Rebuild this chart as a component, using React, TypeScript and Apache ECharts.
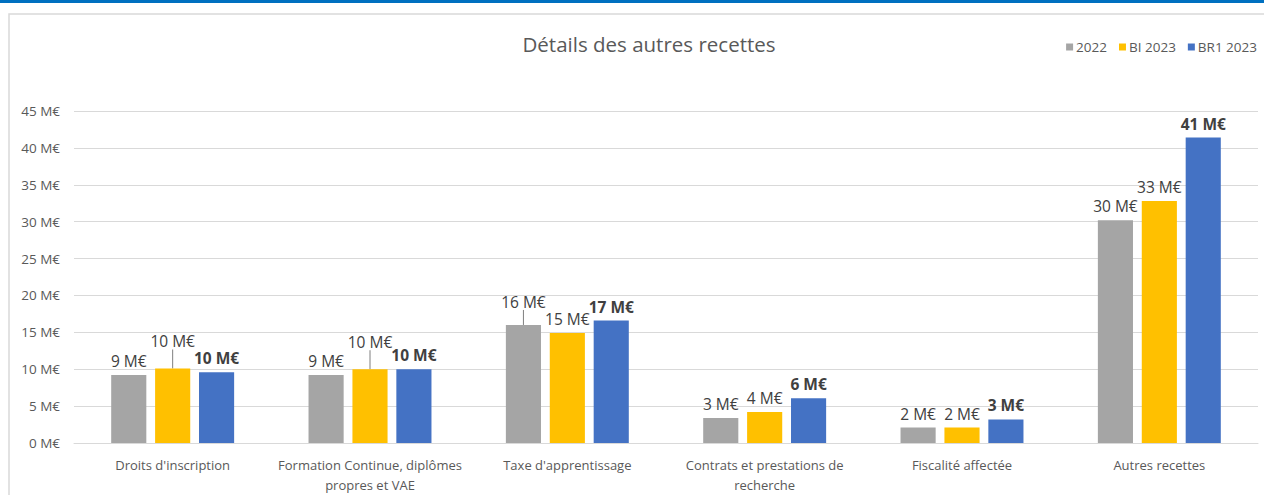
import React, { useEffect, useRef } from "react";
import * as echarts from "echarts";

const categories = [
  "Droits d'inscription",
  "Formation Continue, diplômes\npropres et VAE",
  "Taxe d'apprentissage",
  "Contrats et prestations de\nrecherche",
  "Fiscalité affectée",
  "Autres recettes",
];
const seriesNames = ["2022", "BI 2023", "BR1 2023"];
const values2022 = [9.2, 9.2, 16.0, 3.4, 2.1, 30.2];
const valuesBI2023 = [10.1, 10.0, 14.9, 4.2, 2.1, 32.8];
const valuesBR12023 = [9.6, 10.0, 16.6, 6.05, 3.2, 41.4];
const yTicks = [0, 5, 10, 15, 20, 25, 30, 35, 40, 45];

// labels lifted with a leader line: [seriesIndex, dataIndex, dy]
const liftedLabels: [number, number, number][] = [
  [1, 0, -13],
  [1, 1, -13],
  [0, 2, -9],
];

const colors = ["#A5A5A5", "#FFC000", "#4472C4"];
const FONT = "Open Sans";

export default function App() {
  const ref = useRef<HTMLDivElement>(null);
  useEffect(() => {
    if (!ref.current) return;
    const chart = echarts.init(ref.current, undefined, { renderer: "svg" });
    const data = [values2022, valuesBI2023, valuesBR12023];
    const series = data.map((vals, si) => ({
      name: seriesNames[si],
      type: "bar" as const,
      data: vals.map((v, di) => {
        const lifted = liftedLabels.some((l) => l[0] === si && l[1] === di);
        return { value: v, labelLine: { show: lifted } };
      }),
      barWidth: "17.8%",
      barGap: "25%",
      itemStyle: { color: colors[si] },
      label: {
        show: true,
        position: "top" as const,
        distance: 6,
        fontFamily: FONT,
        fontSize: 15.5,
        fontWeight: si === 2 ? ("bold" as const) : ("normal" as const),
        color: "#404040",
        formatter: (p: any) => Math.round(p.value) + " M€",
      },
      labelLine: { show: false, lineStyle: { color: "#7F7F7F", width: 1 } },
      labelLayout: (p: any) => {
        const f = liftedLabels.find((l) => l[0] === si && l[1] === p.dataIndex);
        return f ? { dy: f[2] } : {};
      },
    }));
    chart.setOption({
      animation: false,
      title: {
        text: "Détails des autres recettes",
        left: 644,
        textAlign: "center",
        top: 28,
        textStyle: { fontFamily: FONT, fontSize: 20.5, fontWeight: "normal", color: "#595959" },
      },
      legend: {
        data: seriesNames,
        right: 2,
        top: 35,
        icon: "rect",
        itemWidth: 7,
        itemHeight: 7,
        itemGap: 12,
        textStyle: { fontFamily: FONT, fontSize: 13.5, color: "#595959", padding: [0, 0, 0, -2] },
      },
      grid: { left: 74, right: 6, top: 111, bottom: 48 },
      xAxis: {
        type: "category",
        data: categories,
        axisTick: { show: false },
        axisLine: { lineStyle: { color: "#D9D9D9" } },
        axisLabel: {
          fontFamily: FONT,
          fontSize: 13,
          color: "#595959",
          margin: 12,
          lineHeight: 20,
          interval: 0,
        },
      },
      yAxis: {
        type: "value",
        min: yTicks[0],
        max: yTicks[yTicks.length - 1],
        interval: 5,
        axisLabel: {
          fontFamily: FONT,
          fontSize: 13.5,
          color: "#595959",
          margin: 14,
          formatter: (v: number) => v + " M€",
        },
        splitLine: { lineStyle: { color: "#D9D9D9" } },
      },
      graphic: [
        { type: "rect", shape: { x: 0, y: 0, width: 1264, height: 3 }, style: { fill: "#0070C0" }, silent: true },
        {
          type: "rect",
          shape: { x: 9, y: 14, width: 1270, height: 500 },
          style: { fill: "none", stroke: "#D9D9D9", lineWidth: 1.5 },
          silent: true,
          z: -1,
        },
      ],
      series,
    });
    return () => chart.dispose();
  }, []);
  return (
    <div
      ref={ref}
      style={{ position: "fixed", left: 0, top: 0, width: 1264, height: 495, background: "#fff" }}
    />
  );
}
